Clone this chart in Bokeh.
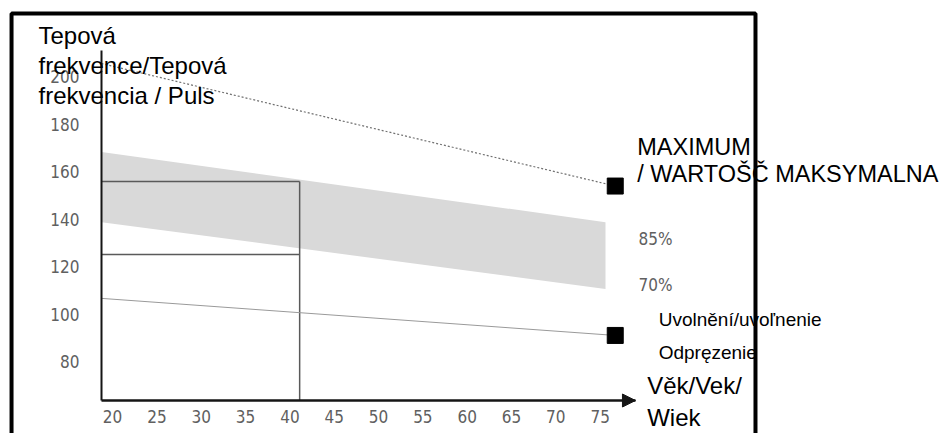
from bokeh.plotting import figure
from bokeh.models import (Range1d, FixedTicker, Label, Arrow, NormalHead,
                          BoxAnnotation, LinearAxis)
from bokeh.embed import file_html
from bokeh.resources import INLINE

# ---- data ----
x_ticks = [20, 25, 30, 35, 40, 45, 50, 55, 60, 65, 70, 75]
y_ticks = [80, 100, 120, 140, 160, 180, 200]

line_age = [18.75, 76.7]
max_hr = [205.6, 154.0]        # MAXIMUM (dotted)
relax_hr = [106.7, 91.1]       # relaxation line

band_age = [18.75, 75.6]
band_upper = [168.3, 138.8]    # 85 %
band_lower = [138.8, 110.7]    # 70 %

example_age = [18.75, 41.1]
example_upper = [155.9, 155.9]
example_lower = [125.2, 125.2]

AX_X0, AX_X1 = 18.75, 78.98     # extent of the age axis
AX_Y0, AX_Y1 = 63.7, 211.2      # extent of the pulse axis

TEXT_FONT = "Liberation Sans"
NARROW = "'DejaVu Sans Condensed', 'Liberation Sans Narrow', Roboto"

p = figure(width=940, height=433,
           x_range=Range1d(7.355, 113.39), y_range=Range1d(49.81, 232.13),
           output_backend="svg", toolbar_location=None,
           x_axis_location=None, y_axis_location=None,
           min_border=0, background_fill_color="white", border_fill_color="white")
p.outline_line_color = None
p.xgrid.visible = False
p.ygrid.visible = False

xax = LinearAxis(fixed_location=AX_Y0, bounds=(AX_X0, AX_X1),
                 ticker=FixedTicker(ticks=x_ticks))
yax = LinearAxis(fixed_location=AX_X0, bounds=(AX_Y0, AX_Y1),
                 ticker=FixedTicker(ticks=y_ticks))
for ax in (xax, yax):
    ax.major_tick_line_color = None
    ax.minor_tick_line_color = None
    ax.major_tick_out = 0
    ax.major_tick_in = 0
    ax.minor_tick_out = 0
    ax.major_label_text_font = NARROW
    ax.major_label_text_font_size = "17px"
    ax.major_label_text_color = "#606060"
    ax.axis_line_color = "#151515"
xax.axis_line_width = 2.5
yax.axis_line_width = 2
xax.major_label_standoff = 9
yax.major_label_standoff = 22
p.add_layout(xax, "below")
p.add_layout(yax, "left")

# shaded training zone
p.varea(x=band_age, y1=band_lower, y2=band_upper, fill_color="#d9d9d9")

# example rectangle (age 41)
p.line(example_age, example_upper, line_color="#5a5a5a", line_width=1.5)
p.line(example_age, example_lower, line_color="#5a5a5a", line_width=1.5)
p.line([example_age[1], example_age[1]], [AX_Y0, example_upper[1]],
       line_color="#5a5a5a", line_width=1.5)

# maximum (dotted) and relaxation lines
p.line(line_age, max_hr, line_color="#707070", line_width=1.2, line_dash="2 2")
p.line(line_age, relax_hr, line_color="#9a9a9a", line_width=1)
p.scatter([line_age[1]], [max_hr[1]], marker="square", size=16,
          fill_color="black", line_color="black")
p.scatter([line_age[1]], [relax_hr[1]], marker="square", size=16,
          fill_color="black", line_color="black")

# arrow head of x axis
p.add_layout(Arrow(end=NormalHead(size=13, fill_color="#151515", line_color="#151515"),
                   x_start=AX_X1 - 1.5, y_start=AX_Y0, x_end=AX_X1, y_end=AX_Y0,
                   line_color="#151515", line_width=2.5))

def lab(x, y, text, size="24px", font=TEXT_FONT, color="black", baseline="alphabetic"):
    p.add_layout(Label(x=x, y=y, text=text, text_font=font, text_font_size=size,
                       text_color=color, text_baseline=baseline, text_align="left"))

lab(11.64, 217.3, "Tepová")
lab(11.64, 204.6, "frekvence/Tepová")
lab(11.64, 192.3, "frekvencia / Puls")
lab(79.18, 170.4, "MAXIMUM", size="23.5px")
lab(79.18, 159.2, "/ WARTOŠČ MAKSYMALNA", size="23.5px")
lab(79.32, 131.7, "85%", size="17px", font=NARROW, color="#606060", baseline="middle")
lab(79.32, 112.3, "70%", size="17px", font=NARROW, color="#606060", baseline="middle")
lab(81.6, 97.7, "Uvolnění/uvoľnenie", size="19px")
lab(81.6, 83.9, "Odpręzenie", size="19px")
lab(80.3, 70.0, "Věk/Vek/")
lab(80.3, 56.5, "Wiek")

# outer black frame of the figure (open at the bottom)
p.add_layout(BoxAnnotation(left=8.6, right=92.52, top=226.65, bottom=30,
                           fill_alpha=0, line_color="black", line_alpha=1,
                           line_width=4))

open("out.html", "w").write(file_html(p, INLINE))
